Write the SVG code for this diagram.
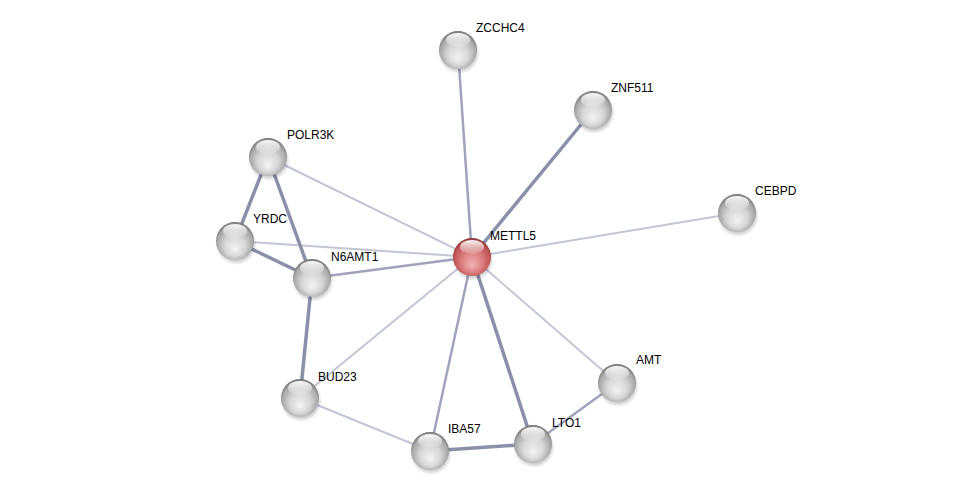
<svg xmlns="http://www.w3.org/2000/svg" width="976" height="496" viewBox="0 0 976 496">
<defs>
<radialGradient id="gg" cx="50%" cy="55%" r="55%" fx="50%" fy="72%">
<stop offset="0" stop-color="#f4f4f4"/>
<stop offset="0.5" stop-color="#d6d6d6"/>
<stop offset="0.85" stop-color="#a8a8a8"/>
<stop offset="1" stop-color="#727272"/>
</radialGradient>
<radialGradient id="rg" cx="50%" cy="55%" r="55%" fx="50%" fy="72%">
<stop offset="0" stop-color="#f1b3b3"/>
<stop offset="0.5" stop-color="#dc8080"/>
<stop offset="0.85" stop-color="#c25555"/>
<stop offset="1" stop-color="#8a3333"/>
</radialGradient>
<linearGradient id="hl" x1="0" y1="0" x2="0" y2="1">
<stop offset="0" stop-color="#fff" stop-opacity="0.95"/>
<stop offset="1" stop-color="#fff" stop-opacity="0.1"/>
</linearGradient>
<radialGradient id="sh" cx="50%" cy="50%" r="50%">
<stop offset="0.6" stop-color="#000" stop-opacity="0.35"/>
<stop offset="1" stop-color="#000" stop-opacity="0"/>
</radialGradient>
<g id="ball">
<circle cx="1" cy="3" r="21" fill="url(#sh)"/>
<circle r="19" fill="url(#gg)"/>
<ellipse cx="0" cy="-10" rx="12" ry="7" fill="url(#hl)"/>
</g>
<g id="rball">
<circle cx="1" cy="3" r="21" fill="url(#sh)"/>
<circle r="19" fill="url(#rg)"/>
<ellipse cx="0" cy="-10" rx="12" ry="7" fill="url(#hl)"/>
</g>
</defs>
<style>
.e{stroke-linecap:round;fill:none}
.l{stroke:#c2c5d6;stroke-width:2}
.m{stroke:#9fa3bc;stroke-width:2.5}
.t{stroke:#8b90aa;stroke-width:3.5}
text{font-family:"Liberation Sans",Arial,sans-serif;font-size:12px;fill:#000}
</style>
<rect width="976" height="496" fill="#fff"/>
<g id="edges">
<line class="e m" x1="472" y1="257" x2="458" y2="50"/>
<line class="e t" x1="472" y1="257" x2="593" y2="110"/>
<line class="e l" x1="472" y1="257" x2="737" y2="213"/>
<line class="e l" x1="472" y1="257" x2="268" y2="157"/>
<line class="e l" x1="472" y1="257" x2="235" y2="241"/>
<line class="e m" x1="472" y1="257" x2="312" y2="278"/>
<line class="e l" x1="472" y1="257" x2="300" y2="398"/>
<line class="e m" x1="472" y1="257" x2="430" y2="451"/>
<line class="e t" x1="472" y1="257" x2="533" y2="444"/>
<line class="e l" x1="472" y1="257" x2="617" y2="383"/>
<line class="e t" x1="268" y1="157" x2="235" y2="241"/>
<line class="e t" x1="268" y1="157" x2="312" y2="278"/>
<line class="e t" x1="235" y1="241" x2="312" y2="278"/>
<line class="e t" x1="312" y1="278" x2="300" y2="398"/>
<line class="e l" x1="300" y1="398" x2="430" y2="451"/>
<line class="e t" x1="430" y1="451" x2="533" y2="444"/>
<line class="e m" x1="533" y1="444" x2="617" y2="383"/>
</g>
<g id="ZCCHC4"><use href="#ball" x="458" y="50"/><text x="476" y="32">ZCCHC4</text></g>
<g id="ZNF511"><use href="#ball" x="593" y="110"/><text x="611" y="92">ZNF511</text></g>
<g id="CEBPD"><use href="#ball" x="737" y="213"/><text x="755" y="195">CEBPD</text></g>
<g id="POLR3K"><use href="#ball" x="268" y="157"/><text x="287" y="139">POLR3K</text></g>
<g id="YRDC"><use href="#ball" x="235" y="241"/><text x="253" y="223">YRDC</text></g>
<g id="N6AMT1"><use href="#ball" x="312" y="278"/><text x="331" y="261">N6AMT1</text></g>
<g id="BUD23"><use href="#ball" x="300" y="398"/><text x="318" y="381">BUD23</text></g>
<g id="IBA57"><use href="#ball" x="430" y="451"/><text x="448" y="433">IBA57</text></g>
<g id="LTO1"><use href="#ball" x="533" y="444"/><text x="552" y="427">LTO1</text></g>
<g id="AMT"><use href="#ball" x="617" y="383"/><text x="636" y="364">AMT</text></g>
<g id="METTL5"><use href="#rball" x="472" y="257"/><text x="490" y="240">METTL5</text></g>
</svg>
